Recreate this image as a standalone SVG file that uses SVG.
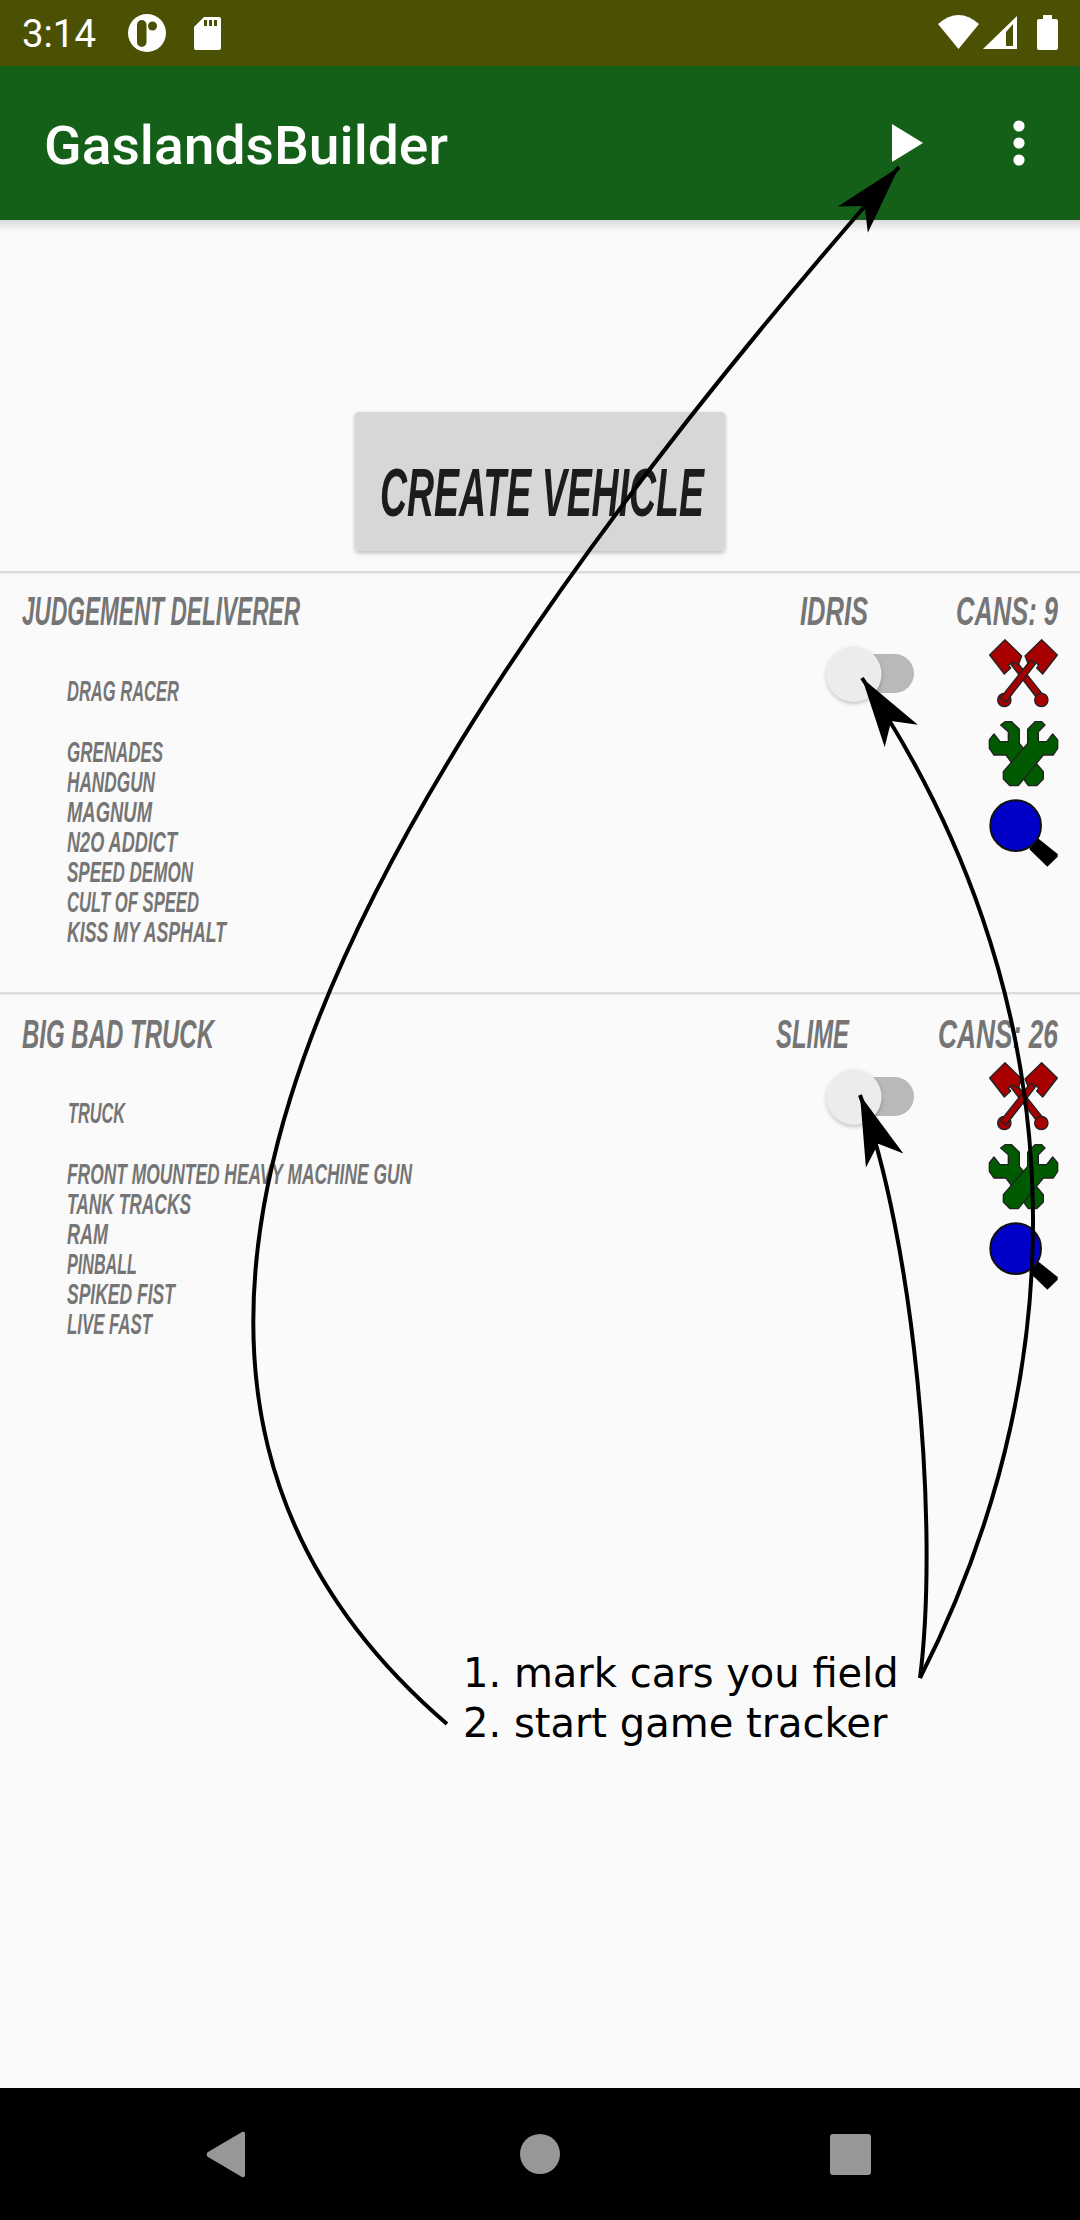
<svg xmlns="http://www.w3.org/2000/svg" xmlns:xlink="http://www.w3.org/1999/xlink" width="1080" height="2220" viewBox="0 0 1080 2220">
<style>
.b{font-family:"Liberation Sans Narrow","Liberation Sans",sans-serif;font-weight:700;font-style:italic;fill:#757575}
.h{font-size:40px}
.i{font-size:29px}
.r{font-family:Roboto,"Liberation Sans",sans-serif;fill:#fff}
.n{font-family:"DejaVu Sans",sans-serif;font-size:40px;fill:#000}
.w{fill:#fff}
.nav{fill:#979797}
.div{fill:#dcdcdc}
.arrow{fill:none;stroke:#000;stroke-width:4;marker-end:url(#head)}
.ed{stroke:#222;stroke-width:4;stroke-linejoin:round}
</style>
<defs>
<marker id="head" markerUnits="userSpaceOnUse" markerWidth="72" markerHeight="44" refX="70" refY="21" orient="auto"><path d="M70 21L0 1L18 21L0 41Z" fill="#000"/></marker>
<linearGradient id="bar" x1="0" y1="0" x2="0" y2="1"><stop offset="0" stop-color="#000" stop-opacity=".13"/><stop offset="1" stop-color="#000" stop-opacity="0"/></linearGradient>
<filter id="sh" x="-20%" y="-20%" width="140%" height="140%"><feDropShadow dx="0" dy="2" stdDeviation="2" flood-color="#000" flood-opacity=".25"/></filter>
<g id="tog">
<rect x="848" y="654" width="66" height="39" rx="19.5" fill="#b9b9b9"/>
<circle cx="854" cy="674" r="27.5" fill="#ececec" filter="url(#sh)"/>
</g>
<g id="icons">
<g transform="translate(980 630) scale(.33333)">
<g fill="#a80000" class="ed">
<path d="M92 102L106 90L196 203L180 216Z"/>
<circle cx="73" cy="210" r="20"/><circle cx="184" cy="210" r="20"/>
<path d="M75 29L29 75L73 132L92 114L85 105L98 95L115 105L125 78Z"/>
<path d="M185 29L232 75L188 132L170 114L176 105L163 95L146 105L135 78Z"/>
<path d="M166 102L152 90L62 203L78 216Z"/>
</g>
<g fill="#005a00" class="ed">
<path d="M62 285L75 275L95 275L118 298L118 340L190 425L190 447L170 467L145 467L78 375L42 375L28 355L28 330L42 312L60 335L85 335L85 305Z"/>
<path d="M195 285L185 275L165 275L143 298L143 340L70 425L70 447L90 467L115 467L190 375L220 375L233 355L233 330L218 312L200 335L175 335L175 305Z"/>
</g>
</g>
<g transform="translate(760 580) scale(.33333)">
<path d="M830 772L893 822L893 830L862 860L808 808Z" fill="#000"/>
<circle cx="767" cy="737" r="76" fill="#0000c8" stroke="#111" stroke-width="6"/>
</g>
</g>
</defs>
<rect width="1080" height="2220" fill="#fafafa"/>
<g id="status-bar">
<rect width="1080" height="66" fill="#4b5003"/>
<text class="r" x="22" y="47" font-size="38" textLength="74" lengthAdjust="spacingAndGlyphs">3:14</text>
<circle cx="147" cy="33" r="19" class="w"/>
<rect x="137" y="20" width="9.5" height="27" rx="4.75" fill="#4b5003"/><circle cx="152.500" cy="26" r="4.500" fill="#4b5003"/>
<path d="M204 17h15a2 2 0 0 1 2 2v29a2 2 0 0 1-2 2h-23a2 2 0 0 1-2-2v-21z" class="w"/>
<path d="M204 20h3v6h-3zM209 20h3v6h-3zM214 20h3v6h-3z" fill="#4b5003"/>
<path d="M938 24Q958.500 6 979 24L958.500 49Z" class="w"/>
<path d="M983 49L1017 16V49Z" class="w"/><path d="M1006 32L1013 24V46H1006Z" fill="#4b5003"/>
<path d="M1043 15h9v4h4a2 2 0 0 1 2 2v27a2 2 0 0 1-2 2h-17a2 2 0 0 1-2-2v-27a2 2 0 0 1 2-2h4z" class="w"/>
</g>
<g id="app-bar">
<rect y="220" width="1080" height="12" fill="url(#bar)"/>
<rect y="66" width="1080" height="154" fill="#146018"/>
<text class="r" x="44" y="164" font-size="53" font-weight="500" textLength="404" lengthAdjust="spacingAndGlyphs">GaslandsBuilder</text>
<path d="M892 124L923 143L892 162Z" class="w"/>
<circle cx="1019" cy="126" r="5.6" class="w"/><circle cx="1019" cy="143" r="5.6" class="w"/><circle cx="1019" cy="160" r="5.6" class="w"/>
</g>
<g id="create-vehicle">
<rect x="355" y="412" width="370" height="139" rx="4" fill="#d6d7d7" filter="url(#sh)"/>
<text class="b" x="380" y="516" font-size="68" style="fill:#1c1c1c" textLength="324" lengthAdjust="spacingAndGlyphs">CREATE VEHICLE</text>
</g>
<rect class="div" y="571" width="1080" height="2.5"/>
<rect class="div" y="992" width="1080" height="2.5"/>
<g id="vehicle-1">
<text class="b h" x="22" y="625" textLength="278" lengthAdjust="spacingAndGlyphs">JUDGEMENT DELIVERER</text>
<text class="b h" x="800" y="625" textLength="68" lengthAdjust="spacingAndGlyphs">IDRIS</text>
<text class="b h" x="956" y="625" textLength="102" lengthAdjust="spacingAndGlyphs">CANS: 9</text>
<text class="b i" x="67" y="701" textLength="112" lengthAdjust="spacingAndGlyphs">DRAG RACER</text>
<text class="b i" x="67" y="762" textLength="96" lengthAdjust="spacingAndGlyphs">GRENADES</text>
<text class="b i" x="67" y="792" textLength="88" lengthAdjust="spacingAndGlyphs">HANDGUN</text>
<text class="b i" x="67" y="822" textLength="85" lengthAdjust="spacingAndGlyphs">MAGNUM</text>
<text class="b i" x="67" y="852" textLength="110" lengthAdjust="spacingAndGlyphs">N2O ADDICT</text>
<text class="b i" x="67" y="882" textLength="126" lengthAdjust="spacingAndGlyphs">SPEED DEMON</text>
<text class="b i" x="67" y="912" textLength="132" lengthAdjust="spacingAndGlyphs">CULT OF SPEED</text>
<text class="b i" x="67" y="942" textLength="159" lengthAdjust="spacingAndGlyphs">KISS MY ASPHALT</text>
<use xlink:href="#tog" href="#tog"/>
<use xlink:href="#icons" href="#icons"/>
</g>
<g id="vehicle-2">
<text class="b h" x="22" y="1048" textLength="192" lengthAdjust="spacingAndGlyphs">BIG BAD TRUCK</text>
<text class="b h" x="776" y="1048" textLength="73" lengthAdjust="spacingAndGlyphs">SLIME</text>
<text class="b h" x="938" y="1048" textLength="120" lengthAdjust="spacingAndGlyphs">CANS: 26</text>
<text class="b i" x="68" y="1123" textLength="57" lengthAdjust="spacingAndGlyphs">TRUCK</text>
<text class="b i" x="67" y="1184" textLength="345" lengthAdjust="spacingAndGlyphs">FRONT MOUNTED HEAVY MACHINE GUN</text>
<text class="b i" x="67" y="1214" textLength="124" lengthAdjust="spacingAndGlyphs">TANK TRACKS</text>
<text class="b i" x="67" y="1244" textLength="41" lengthAdjust="spacingAndGlyphs">RAM</text>
<text class="b i" x="67" y="1274" textLength="70" lengthAdjust="spacingAndGlyphs">PINBALL</text>
<text class="b i" x="67" y="1304" textLength="108" lengthAdjust="spacingAndGlyphs">SPIKED FIST</text>
<text class="b i" x="67" y="1334" textLength="85" lengthAdjust="spacingAndGlyphs">LIVE FAST</text>
<use xlink:href="#tog" href="#tog" y="423"/>
<use xlink:href="#icons" href="#icons" y="423"/>
</g>
<g id="note">
<text class="n" x="463" y="1687">1. mark cars you field</text>
<text class="n" x="463" y="1737">2. start game tracker</text>
</g>
<g id="connectors">
<path class="arrow" d="M447 1724C70 1400 255 900 899 167"/>
<path class="arrow" d="M920 1678C1087 1350 1070 985 862 678"/>
<path class="arrow" d="M920 1678C940 1520 913 1236 860 1095"/>
</g>
<g id="nav-bar">
<rect y="2088" width="1080" height="132" fill="#000"/>
<path d="M242 2132a2 2 0 0 1 3 2V2175a2 2 0 0 1-3 2L208 2157a3 3 0 0 1 0-5Z" class="nav"/>
<circle cx="540" cy="2154" r="20" class="nav"/>
<rect x="830" y="2134" width="41" height="41" rx="3" class="nav"/>
</g>
</svg>
